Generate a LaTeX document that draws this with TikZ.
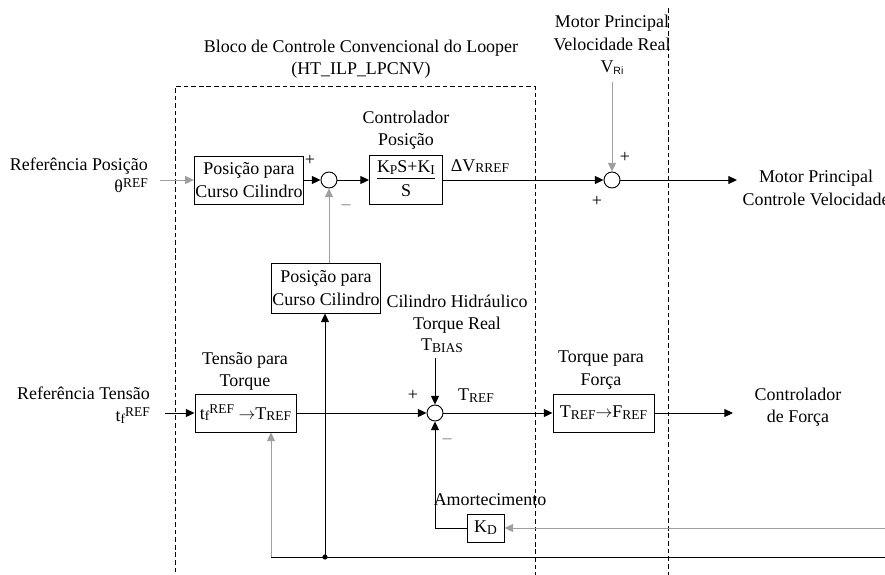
\documentclass[tikz,border=0pt]{standalone}
\usepackage{fontspec}
\setmainfont{Liberation Serif}
\setsansfont{Liberation Sans}
\usepackage{tikz}
\usetikzlibrary{arrows.meta,calc}
\newcommand{\lowtxt}[1]{\raisebox{-1.5pt}{\fontsize{11.5}{11.5}\selectfont #1}}
\newcommand{\hitxt}[1]{\raisebox{4.5pt}{\fontsize{11.5}{11.5}\selectfont #1}}
\tikzset{
  every node/.style={font=\fontsize{15.3}{19}\selectfont},
  block/.style={draw, line width=0.8pt, align=center, inner sep=1pt},
  sumnode/.style={circle, draw, line width=0.8pt, minimum size=0.48cm, inner sep=0pt},
  lbl/.style={align=center, inner sep=0pt},
  arr/.style={line width=0.8pt, -{Triangle[length=2.6mm,width=2.4mm]}},
  garr/.style={arr, draw=gray!75},
  ln/.style={line width=0.8pt},
  frame/.style={line width=0.8pt, dash pattern=on 4pt off 2.5pt}
}
\begin{document}
\begin{tikzpicture}[x=0.03cm, y=-0.03cm]
    \useasboundingbox (0,0) rectangle (885,574);
    % clipped caption at the top
    \begin{scope}
      \clip (0,0) rectangle (885,574);
      \node[anchor=base east, inner sep=0pt, font=\sffamily\fontsize{18}{18}\selectfont, gray!60!black] (caption) at (158,-21) {este artigo};
    \end{scope}
    % Dashed frames
    \draw[frame] (175,580) -- (175,86) -- (535,86) -- (535,580);
    \draw[frame] (668,8) -- (668,580);
    \node[lbl] (title) at (361,59) {Bloco de Controle Convencional do Looper\\(HT\_ILP\_LPCNV)};
    % Position loop
    \node[block, minimum width=3.18cm, minimum height=1.44cm] (pos1) at (249,180) {Posição para\\Curso Cilindro};
    \node[sumnode] (sum1) at (329,180) {};
    \node[block, minimum width=2.19cm, minimum height=1.44cm] (ctrl) at (406,180)
      {\begin{tabular}{@{}c@{}}K\lowtxt{P}S+K\lowtxt{I}\\[-1pt]\hline\rule{0pt}{15pt}S\end{tabular}};
    \node[sumnode] (sum2) at (612,180) {};
    \node[block, minimum width=3.18cm, minimum height=1.5cm] (pos2) at (326,288) {Posição para\\Curso Cilindro};
    \node[lbl, anchor=east, align=right] (refpos) at (148,175) {Referência Posição\\θ\hitxt{REF}};
    \node[lbl] (ctrllbl) at (406,130) {Controlador\\Posição};
    \node[lbl] (dv) at (480,166) {ΔV\lowtxt{RREF}};
    \node[lbl] (vri) at (612,45) {Motor Principal\\Velocidade Real\\V\raisebox{-2pt}{\sffamily\fontsize{9}{9}\selectfont Ri}};
    \node[lbl] (outv) at (816,188) {Motor Principal\\Controle Velocidade};
    \node[lbl] at (310,160) {+};
    \node[lbl, gray] at (346,207) {--};
    \node[lbl] at (625,157) {+};
    \node[lbl] at (597,201) {+};
    % Torque loop
    \node[block, minimum width=3.03cm, minimum height=1.14cm] (tens) at (245.5,413) {t\lowtxt{f}\hitxt{REF} $\rightarrow$T\lowtxt{REF}};
    \node[sumnode] (sum3) at (435,413) {};
    \node[block, minimum width=3.03cm, minimum height=1.14cm] (forca) at (603.5,413) {T\lowtxt{REF}$\rightarrow$F\lowtxt{REF}};
    \node[block, minimum width=1.11cm, minimum height=0.84cm] (kd) at (485.5,528) {K\lowtxt{D}};
    \node[lbl, anchor=east, align=right] (reften) at (150,405) {Referência Tensão\\t\lowtxt{f}\hitxt{REF}};
    \node[lbl] (tenslbl) at (245,371) {Tensão para\\Torque};
    \node[lbl] (cil) at (457,314) {Cilindro Hidráulico\\Torque Real};
    \node[lbl] (tbias) at (442,346) {T\lowtxt{BIAS}};
    \node[lbl] (tref) at (476,396) {T\lowtxt{REF}};
    \node[lbl] (forcalbl) at (601,370) {Torque para\\Força};
    \node[lbl] (outf) at (798,407) {Controlador\\de Força};
    \node[lbl] (amort) at (490,500) {Amortecimento};
    \node[lbl] at (413,395) {+};
    \node[lbl, gray] at (447,441) {--};
    % Free ends
    \coordinate (inpos) at (160,180);
    \coordinate (inten) at (165,413);
    \coordinate (vin) at (612,82);
    \coordinate (vout) at (737,180);
    \coordinate (tin) at (435,358);
    \coordinate (fout) at (733,413);
    \coordinate (kdin) at (885,528);
    \coordinate (botr) at (885,557);
    \coordinate (botl) at (271,557);
    \coordinate (junc) at (325,557);
    % Connectors
    \draw[garr] (inpos) -- (pos1.west);
    \draw[arr] (pos1.east) -- (sum1.west);
    \draw[arr] (sum1.east) -- (ctrl.west);
    \draw[arr] (ctrl.east) -- (sum2.west);
    \draw[garr] (vin) -- (sum2.north);
    \draw[arr] (sum2.east) -- (vout);
    \draw[garr] (pos2.north -| sum1) -- (sum1.south);
    \draw[arr] (inten) -- (tens.west);
    \draw[arr] (tens.east) -- (sum3.west);
    \draw[arr] (tin) -- (sum3.north);
    \draw[arr] (sum3.east) -- (forca.west);
    \draw[arr] (forca.east) -- (fout);
    \draw[garr] (kdin) -- (kd.east);
    \draw[arr] (kd.west) -- (kd.west -| sum3) -- (sum3.south);
    \draw[ln] (botr) -- (botl);
    \draw[garr] (botl) -- (botl |- tens.south);
    \draw[arr] (junc) -- (junc |- pos2.south);
    \fill (junc) circle (2.2pt);
\end{tikzpicture}
\end{document}
